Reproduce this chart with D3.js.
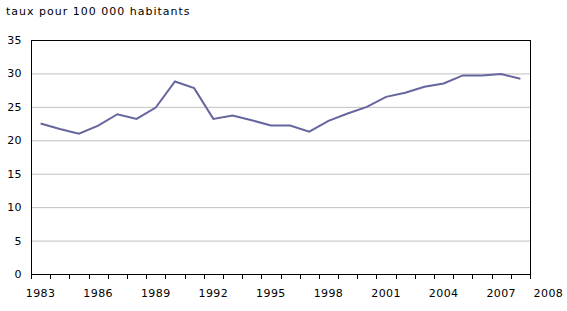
<!DOCTYPE html>
<html>
<head>
<meta charset="utf-8">
<script src="https://cdn.jsdelivr.net/npm/d3@7"></script>
<style>
  body { margin: 0; background: #fff; }
  text { font-family: "DejaVu Sans", Verdana, sans-serif; font-size: 11px; fill: #000; }
  .tick-label { letter-spacing: 0.4px; }
  .unit { letter-spacing: 1px; }
</style>
</head>
<body>
<div id="chart"></div>
<script>
// données
const years = d3.range(1983, 2009);
const rates = [22.5, 21.7, 21.0, 22.2, 23.9, 23.2, 24.9, 28.8, 27.8, 23.2,
               23.7, 23.0, 22.2, 22.2, 21.3, 22.9, 24.0, 25.0, 26.5, 27.1,
               28.0, 28.5, 29.7, 29.7, 29.9, 29.2];
const xLabels = [1983, 1986, 1989, 1992, 1995, 1998, 2001, 2004, 2007];
const yTicks = [0, 5, 10, 15, 20, 25, 30, 35];
const unitLabel = "taux pour 100 000 habitants";

const W = 567, H = 311;
const margin = { top: 40, right: 37, bottom: 37, left: 31 };
const width = W - margin.left - margin.right;
const height = H - margin.top - margin.bottom;

const svg = d3.select("#chart").append("svg")
    .attr("width", W)
    .attr("height", H);

const g = svg.append("g")
    .attr("transform", `translate(${margin.left}, ${margin.top})`);

const x = d3.scaleBand().domain(years).range([0, width]);
const y = d3.scaleLinear().domain([0, 35]).range([height, 0]);

// grille
g.selectAll(".grid")
    .data(yTicks.filter(d => d > 0 && d < 35))
    .enter().append("line")
    .attr("x1", 0).attr("x2", width)
    .attr("y1", d => y(d) + 0.5).attr("y2", d => y(d) + 0.5)
    .attr("stroke", "#c0c0c0");

// cadre
g.append("rect")
    .attr("x", 0.5).attr("y", 0.5)
    .attr("width", width).attr("height", height)
    .attr("fill", "none").attr("stroke", "#000");

// axe Y
g.selectAll(".ylab")
    .data(yTicks)
    .enter().append("text")
    .attr("class", "tick-label")
    .attr("x", -9)
    .attr("y", d => y(d) + 4)
    .attr("text-anchor", "end")
    .text(d => d);

// graduations X
const tickPos = years.map(d => x(d)).concat([width]);
g.selectAll(".xtick")
    .data(tickPos)
    .enter().append("line")
    .attr("x1", d => Math.round(d) + 0.5).attr("x2", d => Math.round(d) + 0.5)
    .attr("y1", height).attr("y2", height + 5)
    .attr("stroke", "#000");

g.selectAll(".xlab")
    .data(xLabels)
    .enter().append("text")
    .attr("class", "tick-label")
    .attr("x", d => x(d) + x.bandwidth() / 2)
    .attr("y", height + 23)
    .attr("text-anchor", "middle")
    .text(d => d);

// étiquette 2008 décalée à droite comme dans l'original
g.append("text")
    .attr("class", "tick-label")
    .attr("x", x(2008) + x.bandwidth() / 2 + 28)
    .attr("y", height + 23)
    .attr("text-anchor", "middle")
    .text(2008);

// courbe
g.append("path")
    .datum(rates)
    .attr("fill", "none")
    .attr("stroke", "#66669e")
    .attr("stroke-width", 2)
    .attr("d", d3.line()
        .x((d, i) => x(years[i]) + x.bandwidth() / 2)
        .y(d => y(d)));

svg.append("text")
    .attr("class", "unit")
    .attr("x", 6)
    .attr("y", 15)
    .text(unitLabel);
</script>
</body>
</html>
